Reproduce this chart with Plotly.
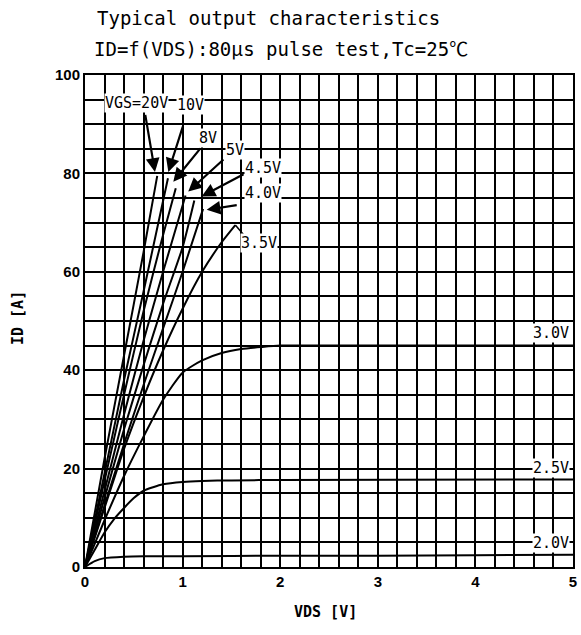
import plotly.graph_objects as go

# ---- data ----
vds_20 = [0, 0.2, 0.4, 0.6, 0.74]
id_20 = [0, 22, 43, 64, 79.5]

vds_10 = [0, 0.2, 0.4, 0.6, 0.85]
id_10 = [0, 19, 38, 56, 79]

vds_8 = [0, 0.2, 0.4, 0.6, 0.8, 0.93]
id_8 = [0, 17.5, 35, 52, 67.5, 77]

vds_5 = [0, 0.2, 0.4, 0.6, 0.8, 1.03]
id_5 = [0, 15.5, 31, 46, 60, 75.5]

vds_45 = [0, 0.2, 0.4, 0.6, 0.8, 1.0, 1.12]
id_45 = [0, 14, 28, 41, 53.5, 65, 74.5]

vds_40 = [0, 0.2, 0.4, 0.6, 0.8, 1.0, 1.21]
id_40 = [0, 12.5, 25, 37, 48.5, 60, 72.8]

vds_35 = [0, 0.2, 0.4, 0.6, 0.8, 1.0, 1.2, 1.4, 1.54]
id_35 = [0, 12, 24, 34.5, 44, 52.5, 60, 66, 69.5]

vds_30 = [0, 0.2, 0.4, 0.6, 0.8, 1.0, 1.2, 1.4, 1.6, 1.8, 2.0, 3, 4, 5]
id_30 = [0, 9.5, 18.5, 26.5, 34, 39.5, 42, 43.5, 44.3, 44.7, 45, 45, 45, 45]

vds_25 = [0, 0.1, 0.2, 0.3, 0.4, 0.5, 0.6, 0.8, 1.0, 1.2, 1.5, 2, 5]
id_25 = [0, 3.5, 7, 9.8, 12, 14, 15.5, 16.8, 17.3, 17.5, 17.6, 17.7, 17.8]

vds_20v = [0, 0.1, 0.2, 0.4, 0.6, 1.0, 2, 3, 4, 5]
id_20v = [0, 1.2, 1.8, 2.1, 2.2, 2.2, 2.3, 2.3, 2.4, 2.5]

curves = [(vds_20, id_20), (vds_10, id_10), (vds_8, id_8), (vds_5, id_5),
          (vds_45, id_45), (vds_40, id_40), (vds_35, id_35), (vds_30, id_30),
          (vds_25, id_25), (vds_20v, id_20v)]

# curve labels and their positions (VDS, ID)
label_texts = ["VGS=20V", "10V", "8V", "5V", "4.5V", "4.0V", "3.5V", "3.0V", "2.5V", "2.0V"]
label_x = [0.53, 1.08, 1.26, 1.54, 1.82, 1.82, 1.78, 4.77, 4.77, 4.77]
label_y = [94.3, 94.0, 87.2, 84.8, 81.1, 76.0, 65.9, 47.6, 20.1, 4.9]

# arrows: tail (x,y) -> head (x,y)
arrow_tail_x = [0.615, 1.007, 1.195, 1.434, 1.64, 1.57]
arrow_tail_y = [92.2, 89.8, 85.4, 83.1, 80.0, 73.6]
arrow_head_x = [0.717, 0.854, 0.905, 1.058, 1.195, 1.247]
arrow_head_y = [80.3, 80.3, 78.3, 76.3, 75.3, 72.6]

x_ticks = [0, 1, 2, 3, 4, 5]
y_ticks = [0, 20, 40, 60, 80, 100]

title_line1 = "Typical output characteristics"
title_line2 = ("ID=f(VDS):80<span style=\"font-family:'Noto Sans CJK JP'\">μ</span>s pulse test,Tc=25"
               "<span style=\"font-family:'Noto Sans CJK JP'\">℃</span>")

# ---- layout geometry ----
W, H = 581, 635
L, R, T, B = 85, 8, 75, 68
PW, PH = W - L - R, H - T - B


def px_x(fx):
    return (fx - L) / PW


def px_y(fy):
    return (H - B - fy) / PH


fig = go.Figure()
for vx, vy in curves:
    fig.add_trace(go.Scatter(x=vx, y=vy, mode="lines",
                             line=dict(color="black", width=2, shape="spline", smoothing=0.6),
                             showlegend=False, hoverinfo="skip"))
# 3.5V leader from curve end toward its label
fig.add_trace(go.Scatter(x=[vds_35[-1], label_x[6] - 0.12], y=[id_35[-1], label_y[6] + 0.8], mode="lines",
                         line=dict(color="black", width=1.5), showlegend=False, hoverinfo="skip"))

mono = "DejaVu Sans Mono"
for t, lx, ly in zip(label_texts, label_x, label_y):
    fig.add_annotation(x=lx, y=ly, text=t, showarrow=False, xref="x", yref="y",
                       font=dict(family=mono, size=15, color="black"), bgcolor="white", borderpad=0)

for tx, ty, hx, hy in zip(arrow_tail_x, arrow_tail_y, arrow_head_x, arrow_head_y):
    fig.add_annotation(x=hx, y=hy, ax=tx, ay=ty, xref="x", yref="y", axref="x", ayref="y",
                       text="", showarrow=True, arrowhead=2, arrowsize=1.25, arrowwidth=2.2,
                       arrowcolor="black")

# title lines
fig.add_annotation(x=px_x(95), y=px_y(18), xref="paper", yref="paper", xanchor="left", yanchor="middle",
                   text=title_line1, showarrow=False, font=dict(family=mono, size=19, color="black"))
fig.add_annotation(x=px_x(92), y=px_y(47), xref="paper", yref="paper", xanchor="left", yanchor="middle",
                   text=title_line2, showarrow=False, font=dict(family=mono, size=19, color="black"))
# axis titles
fig.add_annotation(x=px_x(325), y=px_y(612), xref="paper", yref="paper", xanchor="center", yanchor="middle",
                   text="VDS [V]", showarrow=False,
                   font=dict(family=mono, size=15, color="black", weight="bold"))
fig.add_annotation(x=px_x(18), y=px_y(318), xref="paper", yref="paper", xanchor="center", yanchor="middle",
                   text="ID [A]", showarrow=False, textangle=-90,
                   font=dict(family=mono, size=15, color="black", weight="bold"))

axis_common = dict(showgrid=True, gridcolor="black", gridwidth=1.5, showline=True, linecolor="black",
                   linewidth=2, mirror=True, zeroline=False, ticks="", automargin=False,
                   tickfont=dict(family="Liberation Sans", size=15, color="black", weight="bold"))

fig.update_layout(
    width=W, height=H,
    margin=dict(l=L, r=R, t=T, b=B),
    paper_bgcolor="white", plot_bgcolor="white",
    xaxis=dict(range=[0, 5], tickvals=x_ticks,
               minor=dict(dtick=0.2, showgrid=True, gridcolor="black", gridwidth=1.5), **axis_common),
    yaxis=dict(range=[0, 100], tickvals=y_ticks,
               minor=dict(dtick=5, showgrid=True, gridcolor="black", gridwidth=1.5), **axis_common),
)

fig.write_html("out.html", config={"displayModeBar": False},
               post_script="document.body.style.margin='0';document.body.style.overflow='hidden';")
